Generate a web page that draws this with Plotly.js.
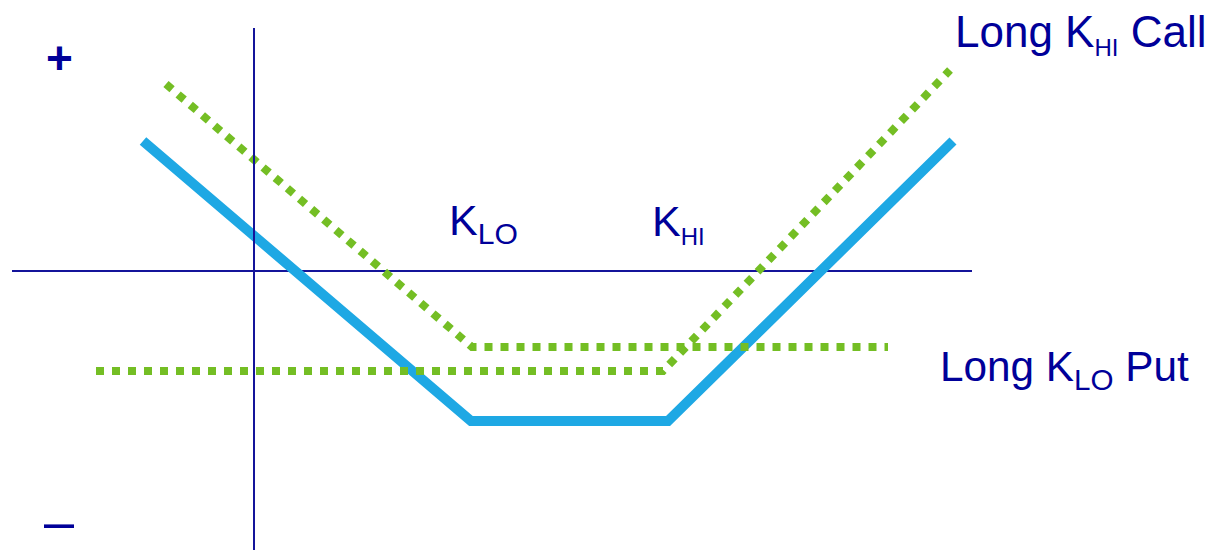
<!DOCTYPE html>
<html>
<head>
<meta charset="utf-8">
<script src="https://cdn.plot.ly/plotly-3.0.1.min.js"></script>
<style>html,body{margin:0;padding:0;background:#fff;}#chart{width:1209px;height:550px;}</style>
</head>
<body>
<div id="chart"></div>
<script>
// Payoff diagram values (price on x, payoff on y; origin = axis crossing)
var strangleX = [-111, 217, 414, 699];
var strangleY = [130, -150, -150, 130];
var putX = [-88, 218, 634];
var putY = [187, -76, -76];
var callX = [-158, 409, 696];
var callY = [-100, -100, 201];
var hAxisX = [-242, 718];
var hAxisY = [0, 0];
var vAxisX = [0, 0];
var vAxisY = [243, -279];

var labelTexts = ['Long K<sub><span style="font-size:24px">HI</span></sub> Call', 'K<sub>LO</sub>', 'K<sub><span style="font-size:24px">HI</span></sub>', 'Long K<sub>LO</sub> Put', '+', '–'];
var labelX = [699, 193, 396, 684, -195, -195];
var labelY = [237, 48, 48, -98, 213, -250];
var labelSize = [44, 43, 43, 42.3, 46, 54];
var labelWeight = ['normal', 'normal', 'normal', 'normal', 'bold', 'normal'];

var axisColor = '#14149a';
var textColor = '#000099';
var blue = '#1ea8e4';
var green = '#74be24';

var traces = [
  {x: hAxisX, y: hAxisY, mode: 'lines', line: {color: axisColor, width: 2}, hoverinfo: 'skip'},
  {x: strangleX, y: strangleY, mode: 'lines', line: {color: blue, width: 10}, hoverinfo: 'skip'},
  {x: putX, y: putY, mode: 'lines', line: {color: green, width: 8, dash: 'dot'}, hoverinfo: 'skip'},
  {x: callX, y: callY, mode: 'lines', line: {color: green, width: 8, dash: 'dot'}, hoverinfo: 'skip'},
  {x: vAxisX, y: vAxisY, mode: 'lines', line: {color: axisColor, width: 2}, hoverinfo: 'skip'}
];

var annotations = labelTexts.map(function(t, i) {
  var isSign = (i >= 4);
  return {
    x: labelX[i], y: labelY[i], xref: 'x', yref: 'y',
    text: t, showarrow: false,
    xanchor: isSign ? 'center' : 'left', yanchor: 'middle',
    font: {family: 'Liberation Sans, Arial, sans-serif', size: labelSize[i], color: textColor, weight: labelWeight[i]}
  };
});

var layout = {
  width: 1209, height: 550,
  margin: {l: 0, r: 0, t: 0, b: 0},
  paper_bgcolor: '#ffffff', plot_bgcolor: '#ffffff',
  showlegend: false,
  xaxis: {range: [-254, 955], visible: false, fixedrange: true},
  yaxis: {range: [-279, 271], visible: false, fixedrange: true},
  annotations: annotations
};

Plotly.newPlot('chart', traces, layout, {displayModeBar: false, staticPlot: true});
</script>
</body>
</html>
